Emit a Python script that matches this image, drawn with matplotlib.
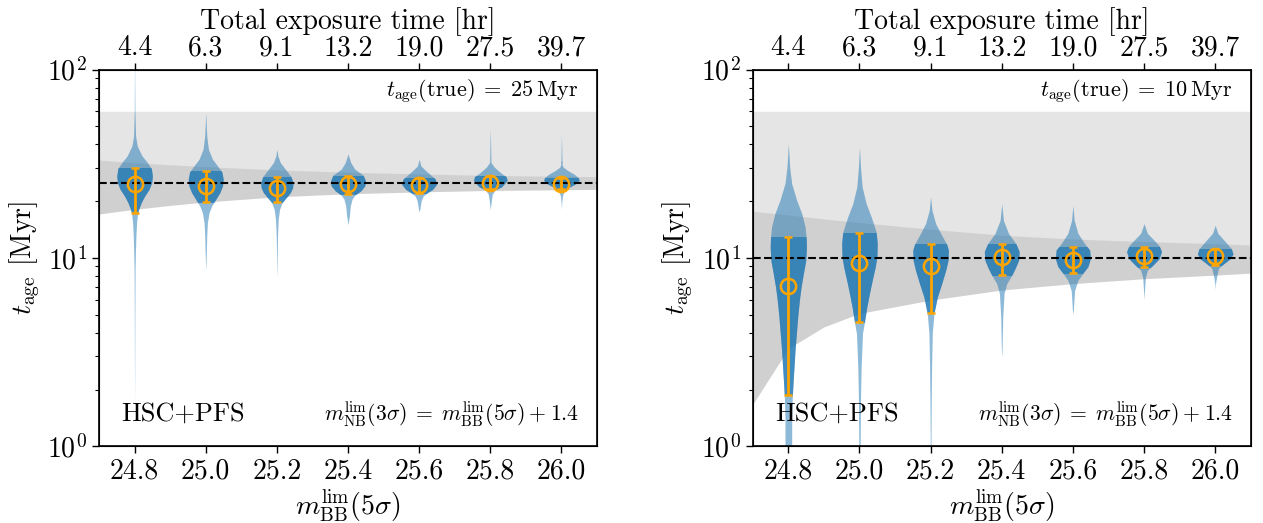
import numpy as np
import matplotlib
matplotlib.use('Agg')
import matplotlib.pyplot as plt
from matplotlib.patches import Rectangle

plt.rcParams['font.family'] = 'serif'
plt.rcParams['font.serif'] = ['cmr10']
plt.rcParams['mathtext.fontset'] = 'cm'
plt.rcParams['axes.formatter.use_mathtext'] = True
plt.rcParams['axes.unicode_minus'] = False

# broad-band limiting magnitudes and matching total exposure times
mlim = [24.8, 25.0, 25.2, 25.4, 25.6, 25.8, 26.0]
texp_labels = ['4.4', '6.3', '9.1', '13.2', '19.0', '27.5', '39.7']

# upper edge of the age prior [Myr]
prior_max = 60

# expected scatter band
band_x = [24.7, 24.8, 24.9, 25.0, 25.2, 25.4, 25.6, 25.8, 26.0, 26.1]
band_hi_25 = [33.1, 32.0, 31.2, 30.5, 29.3, 28.5, 27.9, 27.4, 27.1, 27.0]
band_lo_25 = [17.1, 18.1, 19.0, 19.8, 21.1, 21.9, 22.4, 22.8, 23.0, 23.1]
band_hi_10 = [17.7, 16.9, 16.1, 15.4, 14.2, 13.2, 12.6, 12.2, 11.9, 11.7]
band_lo_10 = [1.67, 3.3, 4.3, 5.07, 5.97, 6.75, 7.3, 7.75, 8.1, 8.3]

# median and 16th / 84th percentiles of recovered age [Myr]
med_25 = [24.6, 24.1, 23.6, 24.6, 24.4, 25.1, 24.8]
lo_25 = [17.3, 19.9, 19.9, 21.8, 22.0, 23.1, 23.1]
hi_25 = [30.0, 29.0, 27.0, 27.2, 26.7, 27.2, 26.4]

med_10 = [7.1, 9.4, 9.1, 10.1, 9.7, 10.25, 10.25]
lo_10 = [1.86, 4.58, 5.07, 8.1, 8.3, 8.9, 9.2]
hi_10 = [12.9, 13.6, 11.8, 11.9, 11.4, 11.4, 11.2]

# posterior density profiles (age levels in Myr, relative density)
lev_25 = [
    [1.7, 3, 5, 7, 8.7, 10.7, 13.1, 15.4, 17.3, 18.1, 19.7, 21.3, 23.1, 25.1, 27.2, 29.8, 32.1, 34.8, 39.3, 44.4, 60, 100],
    [8.5, 9.1, 10.3, 13.1, 15.4, 17.4, 18.9, 20.5, 22.2, 24.1, 26.2, 28.6, 30.8, 33.4, 37.7, 44.4, 59],
    [8, 8.7, 10.3, 13.1, 16.0, 18.1, 19.7, 20.9, 22.2, 23.6, 25.1, 27.0, 29.6, 32.1, 34.8, 37.7],
    [15.0, 16.7, 18.9, 20.5, 21.5, 22.7, 24.1, 25.6, 27.5, 29.6, 32.1, 35.6],
    [17.5, 18.1, 20.1, 21.3, 22.2, 23.1, 24.6, 26.2, 27.5, 29.0, 30.8, 33.4],
    [18, 20.1, 21.8, 23.0, 23.8, 24.8, 25.8, 27.0, 28.4, 30.3, 32.1, 44, 48],
    [18.1, 19.7, 21.3, 22.7, 23.6, 24.6, 25.8, 26.7, 27.8, 29.0, 30.3, 31.5, 32.1, 32.8, 42.6, 45],
]
dens_25 = [
    [0, 0.5, 0.8, 1.2, 1.5, 2.5, 4, 6, 9, 12, 20, 30, 43, 51, 53, 50, 38, 22, 8, 3, 1, 0.3],
    [0, 0.5, 1.5, 3, 5, 10, 18, 30, 42, 50, 52, 48, 35, 20, 8, 3, 0],
    [0, 0.5, 1, 2, 4, 8, 16, 28, 40, 47, 48, 42, 25, 10, 3, 0],
    [0, 4, 7, 12, 20, 38, 50, 52, 45, 20, 8, 0],
    [0, 2, 6, 12, 25, 40, 52, 48, 35, 20, 5, 0],
    [0, 3, 6, 15, 33, 42, 50, 47, 30, 12, 2, 0.6, 0],
    [0, 1, 3, 8, 20, 40, 53, 50, 38, 20, 5, 1.5, 3, 1.5, 0.3, 0],
]

lev_10 = [
    [0.5, 1.0, 1.43, 1.87, 2.16, 2.64, 3.24, 3.97, 4.87, 5.97, 7.0, 8.3, 9.7, 11.4, 12.9, 14.6, 17.2, 20.2, 24.8, 30.4, 40.4],
    [0.5, 1.0, 1.76, 2.64, 3.97, 4.58, 5.5, 6.5, 7.6, 8.96, 10.1, 11.9, 13.6, 14.6, 16.5, 19.4, 23.8, 30.4, 38.8],
    [0.5, 1.0, 1.76, 2.64, 3.97, 5.07, 6.2, 7.3, 8.6, 9.7, 11.0, 11.8, 13.5, 15.2, 17.9, 21.1],
    [3.0, 3.24, 4.87, 6.5, 7.3, 8.1, 8.8, 9.7, 10.8, 11.9, 13.5, 15.8, 19.4],
    [5.0, 5.3, 6.7, 7.6, 8.3, 9.0, 9.9, 11.0, 11.9, 13.5, 15.8, 19.0],
    [6.0, 6.5, 7.9, 8.6, 9.1, 9.9, 10.8, 11.6, 12.4, 13.5, 15.2],
    [6.8, 7.3, 7.9, 8.8, 9.3, 9.9, 10.5, 11.2, 12.2, 13.5, 14.9],
]
dens_10 = [
    [10, 10, 10, 12, 14, 17, 20, 24, 28, 33, 38, 45, 52, 54, 53, 50, 40, 25, 10, 4, 0],
    [2, 2, 3, 5, 9, 15, 22, 30, 38, 47, 52, 53, 50, 45, 35, 20, 8, 3, 0],
    [1, 1, 2, 3, 5, 10, 20, 33, 45, 52, 53, 48, 30, 15, 4, 0],
    [0, 1, 3, 7, 15, 30, 40, 50, 52, 42, 20, 5, 0],
    [0, 1.5, 5, 15, 30, 45, 52, 50, 35, 15, 4, 0],
    [0, 1, 4, 10, 25, 45, 52, 45, 30, 10, 0],
    [0, 1, 4, 10, 25, 45, 53, 48, 30, 8, 0],
]

# half width of the widest violin in x units
HALF_WIDTH = 0.05
DENS_MAX = 53.0


def draw_violins(ax, levels, dens, lo, hi):
    for pos, lev, d, l, h in zip(mlim, levels, dens, lo, hi):
        lev = np.array(lev)
        w = np.array(d) / DENS_MAX * HALF_WIDTH
        ax.fill_betweenx(lev, pos - w, pos + w, color='tab:blue', alpha=0.5, lw=0, zorder=2)
        # darker part between the 16th and 84th percentiles
        inner = ax.fill_betweenx(lev, pos - w, pos + w, color='tab:blue', alpha=0.7, lw=0, zorder=3)
        clip = Rectangle((pos - 0.1, l), 0.2, h - l, transform=ax.transData)
        inner.set_clip_path(clip)


def make_panel(ax, t_true, band_lo, band_hi, med, lo, hi, levels, dens):
    ax.set_yscale('log')
    ax.fill_between(band_x, band_lo, prior_max, color='gray', alpha=0.2, lw=0, zorder=1)
    ax.fill_between(band_x, band_lo, band_hi, color='gray', alpha=0.2, lw=0, zorder=1)
    draw_violins(ax, levels, dens, lo, hi)
    ax.axhline(t_true, color='k', ls='--', lw=1.5, zorder=4)
    med = np.array(med)
    yerr = [med - np.array(lo), np.array(hi) - med]
    ax.errorbar(mlim, med, yerr=yerr, fmt='o', mfc='none', mec='orange', ecolor='orange',
                ms=11, mew=1.8, elinewidth=2, capsize=3, capthick=2, zorder=5)
    ax.set_xlim(24.7, 26.1)
    ax.set_ylim(1, 100)
    ax.set_xticks(mlim)
    ax.set_xticklabels(['%.1f' % m for m in mlim])
    ax.tick_params(axis='both', which='major', labelsize=20, direction='out', length=5, width=1)
    ax.tick_params(axis='y', which='minor', direction='out', length=3, width=0.8)
    ax.set_xlabel(r'$m_{\rm BB}^{\rm lim}(5\sigma)$', fontsize=20, labelpad=2)
    ax.set_ylabel(r'$t_{\rm age}$ [Myr]', fontsize=20)
    ax.text(0.962, 0.943, r'$t_{\rm age}({\rm true})\;=\;%d\,{\rm Myr}$' % t_true,
            transform=ax.transAxes, ha='right', va='center', fontsize=16)
    ax.text(0.045, 0.085, 'HSC+PFS', transform=ax.transAxes, ha='left', va='center', fontsize=19)
    ax.text(0.965, 0.085,
            r'$m_{\rm NB}^{\rm lim}(3\sigma)\;=\;m_{\rm BB}^{\rm lim}(5\sigma)\:+\:1.4$',
            transform=ax.transAxes, ha='right', va='center', fontsize=15.6)
    for s in ax.spines.values():
        s.set_linewidth(1.2)

    # top axis with the total exposure time
    top = ax.twiny()
    top.set_xlim(ax.get_xlim())
    top.set_xticks(mlim)
    top.set_xticklabels(texp_labels)
    top.tick_params(axis='x', labelsize=20, direction='out', length=5, width=1, pad=1)
    top.set_xlabel('Total exposure time [hr]', fontsize=20, labelpad=4)


fig = plt.figure(figsize=(12.63, 5.23), dpi=100)
ax1 = fig.add_axes([0.0784, 0.1468, 0.3943, 0.7203])
ax2 = fig.add_axes([0.596, 0.1468, 0.3943, 0.7203])

make_panel(ax1, 25, band_lo_25, band_hi_25, med_25, lo_25, hi_25, lev_25, dens_25)
make_panel(ax2, 10, band_lo_10, band_hi_10, med_10, lo_10, hi_10, lev_10, dens_10)

fig.savefig('out.png', dpi=100)
